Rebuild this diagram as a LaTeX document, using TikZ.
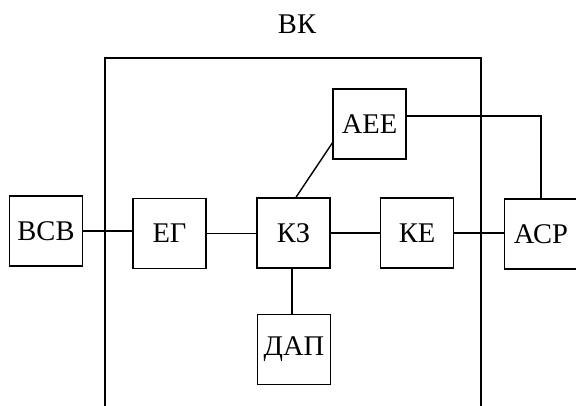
\documentclass[tikz,border=0pt]{standalone}
\usepackage{fontspec}
\setmainfont{Liberation Serif}
\begin{document}
\begin{tikzpicture}[x=1pt,y=-1pt,
  blk/.style={draw,line width=1.4pt,inner sep=0pt,minimum width=73pt,minimum height=70pt,font=\fontsize{28.5}{31}\selectfont},
  wire/.style={line width=1.4pt}]
\useasboundingbox (0,0) rectangle (576,406);
% enclosing frame, open at the bottom
\coordinate (fbl) at (105,406);
\coordinate (ftl) at (105,58);
\coordinate (ftr) at (481,58);
\coordinate (fbr) at (481,406);
\draw[wire] (fbl) -- (ftl) -- (ftr) -- (fbr);
\node[font=\fontsize{28.5}{31}\selectfont] (vk) at (297,24) {ВК};
% blocks
\node[blk] (vsv) at (46,231) {ВСВ};
\node[blk] (eg)  at (169.5,233.5) {ЕГ};
\node[blk] (kz)  at (293.5,233) {КЗ};
\node[blk] (ke)  at (417,233) {КЕ};
\node[blk] (acr) at (541,234) {АСР};
\node[blk] (aee) at (369.5,124) {АЕЕ};
\node[blk] (dap) at (294,349.5) {ДАП};
% links
\draw[wire] (vsv.east) -- (vsv.east -| eg.west);
\draw[wire] (eg.east) -- (eg.east -| kz.west);
\draw[wire] (kz.east) -- (kz.east -| ke.west);
\draw[wire] (ke.east) -- (ke.east -| acr.west);
\draw[wire] ([xshift=-1.5pt]kz.south) -- ([xshift=-1.5pt]kz.south |- dap.north);
\draw[wire] ([xshift=2.5pt]kz.north) -- ([yshift=-19pt]aee.west);
\draw[wire] ([yshift=8pt]aee.east) -| (acr.north);
\end{tikzpicture}
\end{document}
